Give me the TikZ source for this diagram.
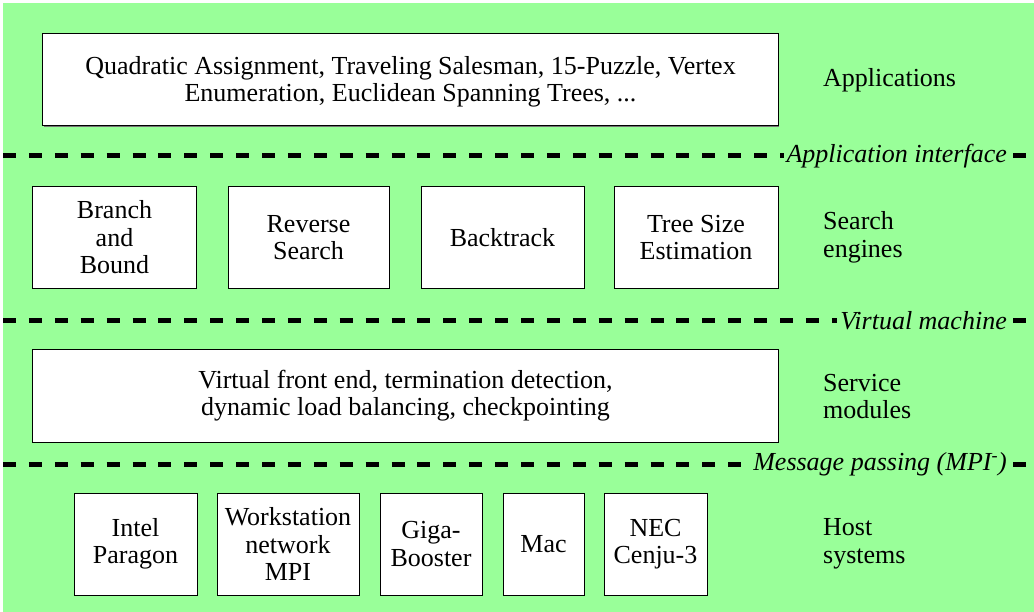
\documentclass[tikz,border=0pt]{standalone}
\usepackage{fontspec}
\setmainfont{Liberation Serif}
\usetikzlibrary{shadows}
\definecolor{bg}{HTML}{99FF99}
\begin{document}
\begin{tikzpicture}[x=1bp,y=-1bp,
  every node/.style={font=\fontsize{26bp}{27.5bp}\selectfont, align=center, inner sep=0pt},
  box/.style={draw=black, line width=1bp, fill=white,
    drop shadow={shadow xshift=1bp, shadow yshift=-1bp, fill=black!55, opacity=1}},
  layer/.style={line width=5bp, dash pattern=on 13bp off 12.9bp},
  iface/.style={fill=bg, inner xsep=3bp, inner ysep=3bp, anchor=east,
    font=\fontsize{26bp}{27.5bp}\selectfont\itshape},
  tag/.style={anchor=west, align=left}]
% canvas
\fill[white] (0,0) rectangle (1034,612);
\fill[bg] (3,3) rectangle (1034,612);

% applications layer
\node[box, minimum width=735bp, minimum height=92bp] (app) at (410.5,80) {};
\node (apptext) at (410.5,82)
  {Quadratic Assignment, Traveling Salesman, 15-Puzzle, Vertex\\Enumeration, Euclidean Spanning Trees, ...};
\node[tag] (tapp) at (823,80) {Applications};

% application interface
\coordinate (l1a) at (3,156);
\coordinate (l1b) at (1031,156);
\draw[layer] (l1a) -- (l1b);
\node[iface] (ai) at (1010,156.5) {Application interface};

% search engines
\node[box, minimum width=163bp, minimum height=101bp] (bb) at (114.5,237.5) {Branch\\and\\Bound};
\node[box, minimum width=161bp, minimum height=101bp] (rs) at (308.5,237.5) {Reverse\\Search};
\node[box, minimum width=163bp, minimum height=101bp] (bt) at (502.5,237.5) {Backtrack};
\node[box, minimum width=164bp, minimum height=101bp] (ts) at (696,237.5) {Tree Size\\Estimation};
\node[tag] (tse) at (823,237.5) {Search\\engines};

% virtual machine
\coordinate (l2a) at (3,320);
\coordinate (l2b) at (1031,320);
\draw[layer] (l2a) -- (l2b);
\node[iface] (vm) at (1010,320.5) {Virtual machine};

% service modules
\node[box, minimum width=745bp, minimum height=93bp] (svc) at (405.5,395.5)
  {Virtual front end, termination detection,\\dynamic load balancing, checkpointing};
\node[tag] (tsm) at (823,396.5) {Service\\modules};

% message passing
\coordinate (l3a) at (3,464);
\coordinate (l3b) at (1031,464);
\draw[layer] (l3a) -- (l3b);
\node[iface] (mp) at (1010,464.5) {Message passing (MPI\textsuperscript{-})};

% host systems
\node[box, minimum width=123bp, minimum height=102bp] (h1) at (135.5,544) {Intel\\Paragon};
\node[box, minimum width=142bp, minimum height=102bp] (h2) at (288,544) {Workstation\\network\\MPI};
\node[box, minimum width=102bp, minimum height=102bp] (h3) at (431,544) {Giga-\\Booster};
\node[box, minimum width=81bp, minimum height=102bp] (h4) at (543.5,544) {Mac};
\node[box, minimum width=103bp, minimum height=102bp] (h5) at (655.5,544) {NEC\\Cenju-3};
\node[tag] (ths) at (823,544) {Host\\systems};
\end{tikzpicture}
\end{document}
